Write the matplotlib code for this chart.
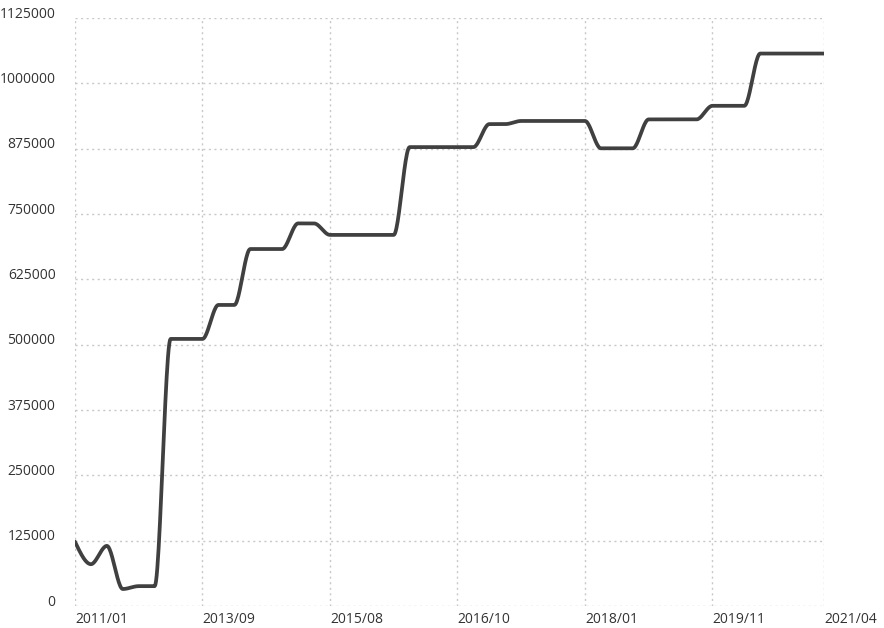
import numpy as np
import matplotlib
matplotlib.use("Agg")
import matplotlib.pyplot as plt
from matplotlib.transforms import ScaledTranslation

# ---- data ----
values = [123000, 80000, 115000, 32500, 38000, 38000, 511000, 511000, 511000,
          576000, 576000, 683000, 683000, 683000, 732000, 732000, 710000,
          710000, 710000, 710000, 710000, 878000, 878000, 878000, 878000,
          878000, 922000, 922000, 928000, 928000, 928000, 928000, 928000,
          875700, 875700, 875700, 931000, 931000, 931000, 931000, 957000,
          957000, 957000, 1057000, 1057000, 1057000, 1057000, 1057000]
tick_idx = [0, 8, 16, 24, 32, 40, 47]
tick_labels = ["2011/01", "2013/09", "2015/08", "2016/10", "2018/01", "2019/11", "2021/04"]
y_ticks = [0, 125000, 250000, 375000, 500000, 625000, 750000, 875000, 1000000, 1125000]


def monotone_x(x, y, n=24):
    x = np.asarray(x, float)
    y = np.asarray(y, float)
    h = np.diff(x)
    d = np.diff(y) / h
    m = np.zeros_like(y)
    for i in range(1, len(y) - 1):
        s0, s1 = d[i - 1], d[i]
        p = (s0 * h[i] + s1 * h[i - 1]) / (h[i - 1] + h[i])
        m[i] = (np.sign(s0) + np.sign(s1)) * min(abs(s0), abs(s1), 0.5 * abs(p))
    m[0] = (3 * d[0] - m[1]) / 2
    m[-1] = (3 * d[-1] - m[-2]) / 2
    xs, ys = [], []
    for i in range(len(y) - 1):
        t = np.linspace(0, 1, n, endpoint=(i == len(y) - 2))
        h00 = 2 * t**3 - 3 * t**2 + 1
        h10 = t**3 - 2 * t**2 + t
        h01 = -2 * t**3 + 3 * t**2
        h11 = t**3 - t**2
        xs.append(x[i] + t * h[i])
        ys.append(h00 * y[i] + h10 * h[i] * m[i] + h01 * y[i + 1] + h11 * h[i] * m[i + 1])
    return np.concatenate(xs), np.concatenate(ys)


plt.rcParams['font.family'] = ['Open Sans', 'DejaVu Sans']

fig = plt.figure(figsize=(8.84, 6.28), dpi=100)
W, H = 884, 628
ax = fig.add_axes([75 / W, (H - 606) / H, (824 - 75) / W, (606 - 18) / H])

xi = np.arange(len(values))
sx, sy = monotone_x(xi, values)
ax.plot(sx, sy, color="#404040", linewidth=2.7, solid_capstyle="round", zorder=3)

ax.set_xlim(0, len(values) - 1)
ax.set_ylim(0, 1125000)

ax.set_xticks(tick_idx)
ax.set_xticklabels(tick_labels, ha="left")
ax.set_yticks(y_ticks)
ax.set_yticklabels([str(v) for v in y_ticks])

for s in ax.spines.values():
    s.set_visible(False)

grid_kw = dict(color="#c8c8c8", linewidth=1.0, linestyle=(0, (1.5, 2.5)))
ax.grid(True, **grid_kw)
ax.set_axisbelow(True)
# right-edge grid line (last tick)
ax.tick_params(axis="both", length=0, labelsize=10, labelcolor="#333333")
ax.tick_params(axis="y", pad=14)
ax.tick_params(axis="x", pad=4)

# shift y labels slightly above their grid lines
offset = ScaledTranslation(0, 6 / 100, fig.dpi_scale_trans)
for lbl in ax.get_yticklabels():
    lbl.set_transform(lbl.get_transform() + offset)

fig.savefig("out.png", dpi=100, facecolor="white")
